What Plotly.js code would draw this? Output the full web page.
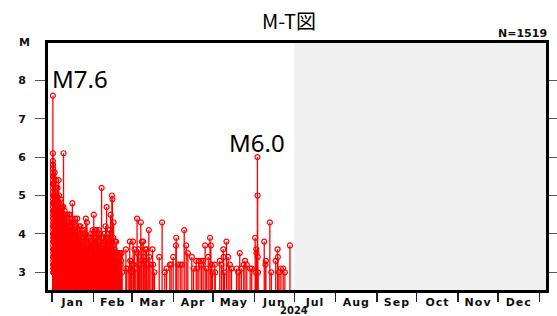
<!DOCTYPE html>
<html>
<head>
<meta charset="utf-8">
<script src="https://cdn.plot.ly/plotly-3.0.1.min.js"></script>
<style>
  html, body { margin: 0; padding: 0; background: #fff; }
  #chart { width: 557px; height: 316px; }
  .xtick text { letter-spacing: 1px; }
</style>
</head>
<body>
<div id="chart"></div>
<script>
// ---- Data ----
// Dense period: one entry per day (days after 2024-01-01 00:00), magnitudes of the events that day.
// The first window starts at the mainshock time (16:10 on Jan 1).
const burstDays = [0.674, 1, 2, 3, 4, 5, 6, 7, 8, 9, 10, 11, 12, 13, 14, 15, 16, 17, 18, 19, 20,
  21, 22, 23, 24, 25, 26, 27, 28, 29, 30, 31, 32, 33, 34, 35, 36, 37, 38, 39, 40,
  41, 42, 43, 44, 45, 46, 47, 48, 49, 50, 51, 52];
const burstMags = [
  [7.6,6.1,5.9,5.8,5.8,5.7,5.7,5.6,5.5,5.5,5.4,5.3,5.3,5.2,5.1,5.0,5.0,4.9,4.8,4.8,4.7,4.6,4.6,4.5,4.4,4.4,4.3,4.2,4.2,4.1,4.0,4.0,3.9,3.8,3.8,3.7,3.6,3.6,3.5,3.4,3.4,3.3,3.2,3.2,3.1,3.0,3.0],
  [5.5,4.2,3.4,5.3,4.8,3.1,4.0,4.6,3.6,5.0,3.9,3.2,4.5,3.8,3.0,4.3,3.5],
  [5.6,3.9,4.7,3.3,4.4,3.0,5.2,3.8,4.1,3.4,4.9,3.6,4.5,3.1,4.2],
  [5.4,4.1,3.5,4.8,3.1,4.3,3.7,5.0,3.3,4.6,3.9],
  [4.9,3.6,5.2,4.0,3.2,4.5,3.8,4.7,3.4,4.2,3.0],
  [5.4,3.9,4.6,3.2,5.0,3.6,4.1,4.8,3.4,4.4],
  [4.7,3.5,4.3,3.1,4.9,3.8,4.0,3.3,4.5],
  [4.6,3.2,4.0,3.7,4.4,3.0,4.7,3.5,4.2],
  [4.5,3.6,4.0,3.3,3.8,4.7,6.1,3.1,4.3],
  [4.4,3.5,4.0,3.0,4.6,3.7,4.2,3.3],
  [4.1,3.4,4.5,3.6,3.9,3.1,4.3],
  [4.0,3.3,4.5,3.8,3.0,4.2,3.5],
  [4.3,3.5,4.0,3.2,4.5,3.7],
  [4.2,3.4,3.9,4.5,3.1,3.7],
  [4.1,3.6,3.0,4.3,3.8,3.3],
  [4.4,3.6,4.8,3.3,4.1,3.9,3.1],
  [4.0,3.5,4.3,3.2,3.8],
  [4.1,3.4,4.4,3.6,3.9,3.1],
  [4.0,3.5,4.2,3.2,3.7],
  [4.4,3.6,4.1,3.0,3.8,3.3],
  [3.9,3.4,4.2,3.1,3.7],
  [4.0,3.5,4.2,3.2,3.7],
  [3.9,3.3,4.1,3.6,3.0],
  [3.8,3.2,4.0,3.5],
  [3.8,3.3,4.1,3.6,3.0],
  [4.0,3.4,4.4,3.7,3.1],
  [3.9,4.3,3.3,3.6],
  [3.7,3.1,3.9,3.4],
  [3.6,3.9,3.0,3.3],
  [3.7,4.0,3.2,3.5],
  [3.8,3.2,4.1,3.5],
  [4.0,3.4,4.5,3.7,3.1],
  [3.8,4.1,3.2,3.5],
  [3.9,3.3,4.1,3.6,3.0],
  [3.7,4.0,3.1,3.4],
  [3.8,4.1,3.2,3.5],
  [3.6,4.0,3.0,3.3],
  [3.9,5.2,3.3,3.6],
  [3.7,3.1,3.9,3.4],
  [3.7,4.0,3.2,3.4],
  [3.8,4.2,3.2,3.5],
  [4.7,3.6,3.9,3.3],
  [3.7,4.0,3.1,3.4],
  [3.8,4.1,3.2,3.5],
  [4.5,3.6,3.9,3.3],
  [5.0,3.8,4.9,3.2,3.5],
  [3.9,4.3,3.3,3.6],
  [3.6,3.8,3.1,3.4],
  [3.5,3.8,3.0,3.3],
  [3.4,3.5,3.2],
  [3.3,3.5,3.1],
  [3.4,3.5,3.2],
  [3.3,3.5,3.0]
];
// Sparse period: individual events (days after 2024-01-01 00:00) and magnitudes.
const eventDays = [55.5,55.8,57.2,58.4,58.7,59.5,59.8,60.9,61.2,62.0,62.5,63.9,64.3,65.0,65.6,66.7,67.0,67.5,68.5,68.8,
  69.7,70.0,71.0,71.4,72.7,73.0,74.3,75.5,76.0,77.0,80.5,82.7,84.7,86.0,88.5,89.5,91.0,93.1,93.3,94.6,
  96.3,97.6,99.3,100.8,102.0,105.0,106.3,108.3,109.0,110.3,112.0,112.3,113.5,115.0,116.0,117.3,118.7,119.3,120.0,120.5,
  122.3,122.6,126.0,127.3,128.6,128.9,129.5,131.0,132.3,133.6,134.8,138.6,139.8,141.0,142.3,144.0,145.0,146.3,148.8,150.0,
  152.6,152.9,153.4,153.6,154.27,154.4,154.5,154.7,159.4,160.3,160.6,163.6,164.7,168.0,169.4,169.6,170.5,171.9,173.6,174.9,
  178.7];
const eventMags = [3.6,3.1,3.1,3.8,3.3,3.0,3.3,3.8,3.2,3.6,3.1,4.4,3.5,3.6,3.2,4.3,3.3,3.8,3.8,3.4,
  3.3,3.6,3.6,3.2,4.1,3.4,3.2,3.6,3.2,3.0,3.4,4.3,3.0,3.1,3.2,3.2,3.4,3.7,3.9,3.2,
  3.2,3.2,4.1,3.7,3.5,3.4,3.1,3.3,3.1,3.3,3.3,3.2,3.3,3.7,3.1,3.4,3.9,3.7,3.2,3.0,
  3.2,3.0,3.3,3.2,3.6,3.4,3.0,3.8,3.4,3.2,3.1,3.1,3.0,3.5,3.1,3.2,3.3,3.2,3.1,3.1,
  3.9,3.0,3.6,3.5,6.0,5.0,3.4,3.0,3.8,3.2,3.3,4.3,3.0,3.3,3.6,3.4,3.0,3.1,3.1,3.0,
  3.7];
const monthTickFormat = '%b';
const yearLabel = '2024';
const eventCountLabel = 'N=1519';
const magTicks = [3, 4, 5, 6, 7, 8];
const bigQuakes = [{day: 0.674, label: 'M7.6'}, {day: 154.27, label: 'M6.0'}];

// ---- Build the event list ----
const DAY_MS = 86400000;
const T0 = Date.UTC(2024, 0, 1);
function dayToDate(d) {
  return new Date(T0 + d * DAY_MS).toISOString().replace('T', ' ').slice(0, 19);
}
const xs = [], ys = [];
burstDays.forEach((start, i) => {
  const mags = burstMags[i];
  const end = Math.floor(start) + 1;
  mags.forEach((m, j) => {
    xs.push(dayToDate(start + (end - start) * j / mags.length));
    ys.push(m);
  });
});
eventDays.forEach((d, i) => { xs.push(dayToDate(d)); ys.push(eventMags[i]); });

const yRange = [2.54, 8.97];
const stemDown = ys.map(m => m - yRange[0]);

const trace = {
  type: 'scatter',
  mode: 'markers',
  x: xs,
  y: ys,
  marker: {symbol: 'circle-open', size: 5, color: '#ff0000', line: {width: 1.2, color: '#ff0000'}},
  error_y: {type: 'data', symmetric: false, array: ys.map(() => 0), arrayminus: stemDown,
            color: '#ff0000', thickness: 1.3, width: 0},
  hoverinfo: 'skip'
};

const tickFont = {family: 'DejaVu Sans', size: 11, weight: 'bold', color: '#111'};
const yearFont = {family: 'DejaVu Sans', size: 10, weight: 'bold', color: '#111'};

const layout = {
  width: 557, height: 316,
  margin: {l: 48, r: 11, t: 43, b: 26, pad: 0},
  paper_bgcolor: '#ffffff',
  plot_bgcolor: '#ffffff',
  showlegend: false,
  hovermode: false,
  title: {text: 'M-T図', x: 289 / 557, xanchor: 'center', xref: 'container',
          y: 1 - 22 / 316, yanchor: 'middle', yref: 'container',
          font: {family: 'Noto Sans CJK JP', size: 20, color: '#000'}},
  xaxis: {
    type: 'date',
    range: ['2023-12-29', '2025-01-06'],
    tick0: '2024-01-01', dtick: 'M1', tickformat: monthTickFormat,
    ticklabelmode: 'period',
    ticks: 'outside', ticklen: 9, tickwidth: 1.3, tickcolor: '#222',
    showline: true, linewidth: 3, linecolor: '#000', mirror: true,
    showgrid: false, zeroline: false,
    tickfont: tickFont,
    ticklabelstandoff: -9
  },
  yaxis: {
    range: yRange,
    tickmode: 'array', tickvals: magTicks, ticktext: magTicks.map(String),
    ticks: 'outside', ticklen: 10, tickwidth: 1, tickcolor: '#555',
    showline: true, linewidth: 3, linecolor: '#000', mirror: 'ticks',
    showgrid: false, zeroline: false,
    tickfont: tickFont,
    ticklabelstandoff: 7
  },
  shapes: [{
    type: 'rect', xref: 'x', yref: 'paper',
    x0: '2024-07-01', x1: '2025-01-06', y0: 0, y1: 1,
    fillcolor: '#f0f0f0', line: {width: 0}, layer: 'below'
  }],
  annotations: [
    {text: 'M', xref: 'paper', yref: 'paper', x: (24 - 48) / 498, y: (290 - 42) / 247,
     xanchor: 'center', yanchor: 'middle', showarrow: false, font: tickFont},
    {text: eventCountLabel, xref: 'paper', yref: 'paper', x: (549 - 48) / 498, y: (290 - 33.5) / 247,
     xanchor: 'right', yanchor: 'middle', showarrow: false, font: tickFont},
    {text: yearLabel, xref: 'x', yref: 'paper', x: '2024-07-01', y: (290 - 310.5) / 247,
     xanchor: 'center', yanchor: 'middle', showarrow: false, font: yearFont, borderpad: 0},
    {text: bigQuakes[0].label, xref: 'x', yref: 'y', x: dayToDate(-1.6), y: 8.05,
     xanchor: 'left', yanchor: 'middle', showarrow: false,
     font: {family: 'Noto Sans', size: 24, color: '#000'}},
    {text: bigQuakes[1].label, xref: 'x', yref: 'y', x: dayToDate(bigQuakes[1].day), y: 6.38,
     xanchor: 'center', yanchor: 'middle', showarrow: false,
     font: {family: 'Noto Sans', size: 24, color: '#000'}}
  ]
};

Plotly.newPlot('chart', [trace], layout, {displayModeBar: false, staticPlot: true});
</script>
</body>
</html>
